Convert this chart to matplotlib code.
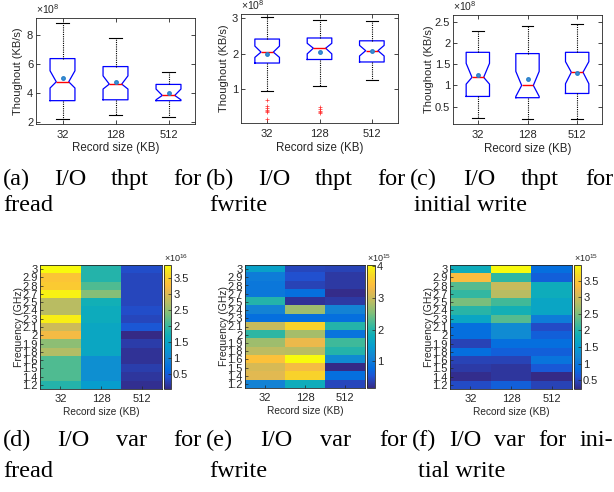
import numpy as np
import matplotlib
matplotlib.use('Agg')
import matplotlib.pyplot as plt
from matplotlib.colors import LinearSegmentedColormap

plt.rcParams['font.family'] = ['Liberation Sans', 'DejaVu Sans']
plt.rcParams['mathtext.fontset'] = 'custom'
plt.rcParams['mathtext.rm'] = 'Liberation Sans'
plt.rcParams['mathtext.it'] = 'Liberation Sans:italic'

# ---------------- data ----------------
sizes = ['32', '128', '512']
freq_labels = ['3', '2.9', '2.8', '2.7', '2.5', '2.4', '2.3', '2.1', '2',
               '1.9', '1.8', '1.6', '1.5', '1.4', '1.2']   # top -> bottom

# (a) fread throughput (x1e8 KB/s)
a_q1 = [3.47, 3.53, 3.47]
a_med = [4.77, 4.61, 3.83]
a_q3 = [6.37, 5.82, 4.59]
a_lo = [2.23, 2.48, 2.37]
a_hi = [8.80, 7.82, 5.48]
a_mean = [5.00, 4.75, 4.02]
a_cilo = [4.34, 4.27, 3.53]
a_cihi = [5.53, 5.18, 4.27]
a_fliers = [[], [], []]

# (b) fwrite throughput (x1e8 KB/s)
b_q1 = [1.73, 1.83, 1.76]
b_med = [2.04, 2.15, 2.08]
b_q3 = [2.41, 2.44, 2.36]
b_lo = [0.94, 1.08, 1.25]
b_hi = [3.03, 2.95, 2.91]
b_mean = [1.99, 2.05, 2.08]
b_cilo = [1.89, 1.99, 1.93]
b_cihi = [2.21, 2.29, 2.23]
b_fliers = [[0.68, 0.52, 0.45, 0.41, 0.37, 0.33, 0.14],
            [0.48, 0.42, 0.38, 0.34, 0.31], []]

# (c) initial write throughput (x1e8 KB/s)
c_q1 = [0.74, 0.71, 0.81]
c_med = [1.19, 1.00, 1.31]
c_q3 = [1.78, 1.75, 1.78]
c_lo = [0.23, 0.21, 0.20]
c_hi = [2.28, 2.40, 2.44]
c_mean = [1.24, 1.15, 1.30]
c_cilo = [1.03, 0.74, 1.04]
c_cihi = [1.52, 1.33, 1.56]
c_fliers = [[], [], []]

# (d) fread variance (x1e16), rows top (3 GHz) -> bottom (1.2 GHz)
d_32 = [3.90, 3.36, 3.43, 3.82, 2.74, 2.74, 3.78, 2.90, 3.20, 2.47, 2.70, 2.12, 2.12, 2.12, 1.85]
d_128 = [1.85, 1.85, 2.12, 2.43, 1.72, 1.62, 1.62, 1.54, 1.54, 1.54, 1.54, 1.15, 1.15, 1.15, 1.35]
d_512 = [0.35, 0.30, 0.30, 0.30, 0.30, 0.35, 0.30, 0.45, 0.03, 0.20, 0.12, 0.12, 0.22, 0.15, 0.08]

# (e) fwrite variance (x1e15)
e_32 = [1.56, 1.02, 0.94, 0.94, 1.98, 1.13, 0.82, 2.98, 2.06, 2.71, 2.90, 3.44, 3.10, 3.17, 1.13]
e_128 = [0.44, 0.52, 0.40, 0.82, 0.25, 2.71, 0.82, 3.64, 2.75, 3.25, 2.87, 4.02, 3.33, 3.64, 1.79]
e_512 = [0.40, 0.32, 0.32, 0.20, 0.32, 1.13, 0.82, 1.98, 0.90, 2.17, 1.98, 1.25, 0.17, 0.82, 0.44]

# (f) initial write variance (x1e15)
f_32 = [1.81, 3.34, 2.29, 2.10, 2.48, 2.03, 1.66, 0.87, 0.87, 0.46, 0.87, 0.46, 0.39, 0.28, 0.54]
f_128 = [3.97, 2.07, 2.96, 2.85, 2.18, 1.88, 2.29, 1.28, 1.28, 0.87, 0.72, 0.46, 0.35, 0.35, 0.72]
f_512 = [0.87, 0.72, 1.81, 1.81, 1.66, 1.66, 1.06, 0.54, 0.72, 0.87, 0.72, 0.95, 0.65, 0.24, 0.46]

# ---------------- style ----------------
_par = [(0, (0.2081, 0.1663, 0.5292)), (6, (0.1253, 0.3242, 0.8303)),
        (10, (0.0165, 0.4266, 0.8786)), (16, (0.0793, 0.5200, 0.8312)),
        (21, (0.0265, 0.6137, 0.8135)), (27, (0.0590, 0.6838, 0.7254)),
        (32, (0.2178, 0.7250, 0.6193)), (38, (0.4871, 0.7491, 0.4840)),
        (44, (0.7184, 0.7411, 0.3905)), (50, (0.9139, 0.7258, 0.3063)),
        (53, (0.9938, 0.7455, 0.2403)), (58, (0.9697, 0.8481, 0.1475)),
        (63, (0.9763, 0.9831, 0.0538))]
parula = LinearSegmentedColormap.from_list('parula', [(i / 63, c) for i, c in _par])

W, H = 614, 492
fig = plt.figure(figsize=(W / 100, H / 100), dpi=100)
AX_COL = '#262626'


def px(l, t, r, b):
    return [l / W, 1 - b / H, (r - l) / W, (b - t) / H]


def style_axes(ax):
    for s in ax.spines.values():
        s.set_color(AX_COL)
        s.set_linewidth(0.6)


def boxpanel(rect, q1, med, q3, lo, hi, mean, cilo, cihi, fliers, ylim, yticks, ylab_x):
    ax = fig.add_axes(px(*rect))
    stats = []
    for i in range(3):
        stats.append(dict(q1=q1[i], med=med[i], q3=q3[i], whislo=lo[i], whishi=hi[i],
                          mean=mean[i], cilo=cilo[i], cihi=cihi[i],
                          fliers=np.array(fliers[i]), label=sizes[i]))
    ax.bxp(stats, positions=[1, 2, 3], widths=0.47, shownotches=True,
           showmeans=True, showfliers=True,
           boxprops=dict(color='#0000ff', lw=0.9),
           medianprops=dict(color='#ff0000', lw=1.0),
           whiskerprops=dict(color='black', lw=0.8, linestyle=(0, (1, 1))),
           capprops=dict(color='black', lw=0.8),
           flierprops=dict(marker='+', markeredgecolor='#ff3030', markersize=2.2,
                           markeredgewidth=0.5, linestyle='none'),
           meanprops=dict(marker='o', markerfacecolor='#3b94dc',
                          markeredgecolor='#2a7fc8', markersize=2.5))
    ax.set_xlim(0.5, 3.5)
    ax.set_ylim(*ylim)
    ax.set_yticks(yticks, [f'{t:g}' for t in yticks])
    ax.tick_params(direction='in', length=3, top=True, right=True,
                   labelsize=8, colors=AX_COL, width=0.6)
    ax.tick_params(axis='x', pad=4)
    ax.tick_params(axis='y', pad=2)
    style_axes(ax)
    ax.set_ylabel('Thoughout (KB/s)', fontsize=8, color=AX_COL)
    ax.yaxis.set_label_coords(ylab_x, 0.5)
    ax.set_xlabel('Record size (KB)', fontsize=8.3, color=AX_COL)
    ax.xaxis.set_label_coords(0.5, -0.17)
    ax.text(0, 1.015, '×10$^{8}$', transform=ax.transAxes, ha='left', va='bottom',
            fontsize=7.5, color=AX_COL)
    return ax


boxpanel((36, 18, 195, 124), a_q1, a_med, a_q3, a_lo, a_hi, a_mean, a_cilo, a_cihi,
         a_fliers, (1.86, 9.17), [2, 4, 6, 8], -0.08)
boxpanel((241, 14, 398, 123), b_q1, b_med, b_q3, b_lo, b_hi, b_mean, b_cilo, b_cihi,
         b_fliers, (0.03, 3.12), [1, 2, 3], -0.077)
boxpanel((453, 15, 602, 124), c_q1, c_med, c_q3, c_lo, c_hi, c_mean, c_cilo, c_cihi,
         c_fliers, (0.09, 2.66), [0.5, 1, 1.5, 2, 2.5], -0.128)


def heat(rect, crect, cols, cticks, exp_txt):
    M = np.column_stack(cols)
    ax = fig.add_axes(px(*rect))
    im = ax.imshow(M, cmap=parula, aspect='auto', interpolation='nearest')
    ax.set_xticks(range(3), sizes)
    ax.set_yticks(range(len(freq_labels)), freq_labels)
    ax.tick_params(direction='in', length=2, labelsize=8, colors=AX_COL, width=0.5)
    ax.tick_params(axis='x', pad=3.5)
    ax.tick_params(axis='y', pad=1.5)
    style_axes(ax)
    ax.set_ylabel('Frequency (GHz)', fontsize=7.5, color=AX_COL)
    ax.yaxis.set_label_coords(-0.135, 0.5)
    ax.set_xlabel('Record size (KB)', fontsize=7.3, color=AX_COL)
    ax.xaxis.set_label_coords(0.5, -0.145)
    cax = fig.add_axes(px(*crect))
    cb = fig.colorbar(im, cax=cax)
    cb.set_ticks(cticks)
    cb.ax.set_yticklabels([f'{t:g}' for t in cticks])
    cb.outline.set_linewidth(0.6)
    cb.outline.set_edgecolor(AX_COL)
    cax.tick_params(direction='in', length=2.5, labelsize=8, colors=AX_COL,
                    width=0.5, pad=1.5)
    cax.text(0, 1.01, exp_txt, transform=cax.transAxes, ha='left', va='bottom',
             fontsize=6.5, color=AX_COL)


heat((40, 265, 162, 389), (164, 265, 171, 389), [d_32, d_128, d_512],
     [0.5, 1, 1.5, 2, 2.5, 3, 3.5], '×10$^{16}$')
heat((245, 265, 365, 388), (367, 265, 375, 388), [e_32, e_128, e_512],
     [1, 2, 3, 4], '×10$^{15}$')
heat((450, 265, 572, 389), (574, 265, 581, 389), [f_32, f_128, f_512],
     [0.5, 1, 1.5, 2, 2.5, 3, 3.5], '×10$^{15}$')

# ---------------- captions ----------------
cap = dict(family=['Liberation Serif', 'DejaVu Serif'], fontsize=17.5, color='black')
renderer = fig.canvas.get_renderer()


def justify(words, x0, x1, ybase):
    ts = [fig.text(0, 1 - ybase / H, w, va='baseline', ha='left', **cap) for w in words]
    widths = [t.get_window_extent(renderer).width for t in ts]
    gap = (x1 - x0 - sum(widths)) / (len(words) - 1)
    x = x0
    for t, w in zip(ts, widths):
        t.set_x(x / W)
        x += w + gap


y1t, y2t = 185, 211
y1b, y2b = 446, 477
justify(['(a)', 'I/O', 'thpt', 'for'], 3, 201, y1t)
justify(['(b)', 'I/O', 'thpt', 'for'], 206, 405, y1t)
justify(['(c)', 'I/O', 'thpt', 'for'], 410, 613, y1t)
justify(['(d)', 'I/O', 'var', 'for'], 3, 201, y1b)
justify(['(e)', 'I/O', 'var', 'for'], 206, 407, y1b)
justify(['(f)', 'I/O', 'var', 'for', 'ini-'], 412, 613, y1b)
for txt, x, y in [('fread', 3, y2t), ('fwrite', 209, y2t), ('initial write', 414, y2t),
                  ('fread', 3, y2b), ('fwrite', 209, y2b), ('tial write', 418, y2b)]:
    fig.text(x / W, 1 - y / H, txt, va='baseline', ha='left', **cap)

fig.savefig('out.png', dpi=100)
